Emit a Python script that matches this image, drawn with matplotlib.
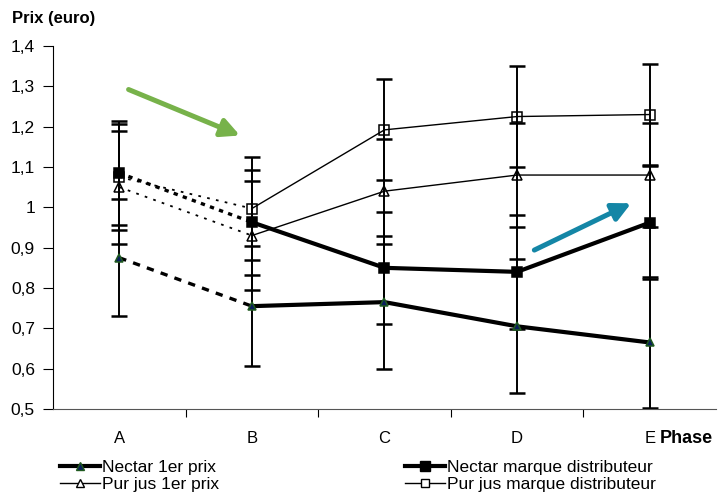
import matplotlib
matplotlib.use("Agg")
import matplotlib.pyplot as plt
from matplotlib.lines import Line2D

plt.rcParams["font.family"] = ["Liberation Sans", "DejaVu Sans"]

phases = ["A", "B", "C", "D", "E"]
y_ticks = [0.5, 0.6, 0.7, 0.8, 0.9, 1.0, 1.1, 1.2, 1.3, 1.4]
y_labels = ["0,5", "0,6", "0,7", "0,8", "0,9", "1", "1,1", "1,2", "1,3", "1,4"]

nectar_1er = [0.875, 0.755, 0.765, 0.705, 0.665]
nectar_1er_err = [0.145, 0.148, 0.165, 0.166, 0.162]
nectar_mdd = [1.085, 0.963, 0.850, 0.840, 0.962]
nectar_mdd_err = [0.128, 0.130, 0.138, 0.142, 0.140]
pur_1er = [1.050, 0.930, 1.040, 1.080, 1.080]
pur_1er_err = [0.140, 0.135, 0.130, 0.128, 0.130]
pur_mdd = [1.075, 0.997, 1.192, 1.225, 1.230]
pur_mdd_err = [0.132, 0.128, 0.125, 0.125, 0.125]

x = list(range(len(phases)))

fig = plt.figure(figsize=(7.28, 4.94), dpi=100)
ax = fig.add_axes([0.0728, 0.172, 0.9107, 0.735])

series = [
    # values, errors, line width, marker, size, face, edge, A-B dash pattern
    (nectar_1er, nectar_1er_err, 3.0, "^", 6, "#0a1f5c", "#1f5a1f", (2.2, 2.2)),
    (nectar_mdd, nectar_mdd_err, 3.0, "s", 7.5, "black", "black", (1.3, 1.6)),
    (pur_1er, pur_1er_err, 1.0, "^", 7, "none", "black", (1.5, 3.5)),
    (pur_mdd, pur_mdd_err, 1.0, "s", 7.5, "none", "black", (1.5, 3.5)),
]

for vals, errs, lw, mk, ms, fc, ec, dash in series:
    ax.errorbar(x, vals, yerr=errs, fmt="none", ecolor="black",
                elinewidth=1.4, capsize=5.5, capthick=1.8, zorder=2)
    ax.plot(x[:2], vals[:2], color="black", lw=lw * 0.8 if lw > 2 else 1.3,
            linestyle=(0, dash), zorder=3)
    ax.plot(x[1:], vals[1:], color="black", lw=lw, zorder=3)
    ax.plot(x, vals, linestyle="none", marker=mk, ms=ms,
            markerfacecolor=fc, markeredgecolor=ec, markeredgewidth=1.1, zorder=4)

ax.set_xlim(-0.5, 4.5)
ax.set_ylim(0.5, 1.4)
ax.set_yticks(y_ticks)
ax.set_yticklabels(y_labels, fontsize=12.5)
ax.set_xticks(x)
ax.set_xticklabels(phases, fontsize=12)
ax.set_xticks([0.5, 1.5, 2.5, 3.5], minor=True)
ax.tick_params(axis="x", which="major", length=0, pad=16)
ax.tick_params(axis="x", which="minor", length=6, width=0.8, direction="out")
ax.tick_params(axis="y", length=7, width=0.8, pad=6)

for side in ["top", "right"]:
    ax.spines[side].set_visible(False)
ax.spines["left"].set_linewidth(0.8)
ax.spines["bottom"].set_linewidth(0.8)
ax.spines["bottom"].set_color("#555555")

fig.text(0.016, 0.962, "Prix (euro)", fontsize=12, fontweight="bold", va="center")
fig.text(0.906, 0.113, "Phase", fontsize=13, fontweight="bold", va="center")

# trend arrows
ax.annotate("", xy=(0.91, 1.178), xytext=(0.07, 1.292),
            arrowprops=dict(arrowstyle="-|>,head_length=1.1,head_width=0.55",
                            color="#77b24a", lw=3.6, shrinkA=0, shrinkB=0))
ax.annotate("", xy=(3.86, 1.01), xytext=(3.13, 0.894),
            arrowprops=dict(arrowstyle="-|>,head_length=1.1,head_width=0.55",
                            color="#1486a6", lw=3.6, shrinkA=0, shrinkB=0))

h_n1 = Line2D([], [], color="black", lw=3, marker="^", ms=6,
              markerfacecolor="#0a1f5c", markeredgecolor="#1f5a1f")
h_p1 = Line2D([], [], color="black", lw=1, marker="^", ms=6,
              markerfacecolor="white", markeredgecolor="black")
h_nm = Line2D([], [], color="black", lw=3, marker="s", ms=7,
              markerfacecolor="black", markeredgecolor="black")
h_pm = Line2D([], [], color="black", lw=1, marker="s", ms=6,
              markerfacecolor="white", markeredgecolor="black")

leg_kw = dict(frameon=False, fontsize=12.5, handlelength=2.3, handletextpad=0.15,
              labelspacing=0.1, borderpad=0, borderaxespad=0)
fig.legend([h_n1, h_p1], ["Nectar 1er prix", "Pur jus 1er prix"],
           loc="upper left", bbox_to_anchor=(0.082, 0.069), **leg_kw)
fig.legend([h_nm, h_pm], ["Nectar marque distributeur", "Pur jus marque distributeur"],
           loc="upper left", bbox_to_anchor=(0.556, 0.069), **leg_kw)

fig.savefig("out.png", dpi=100)
